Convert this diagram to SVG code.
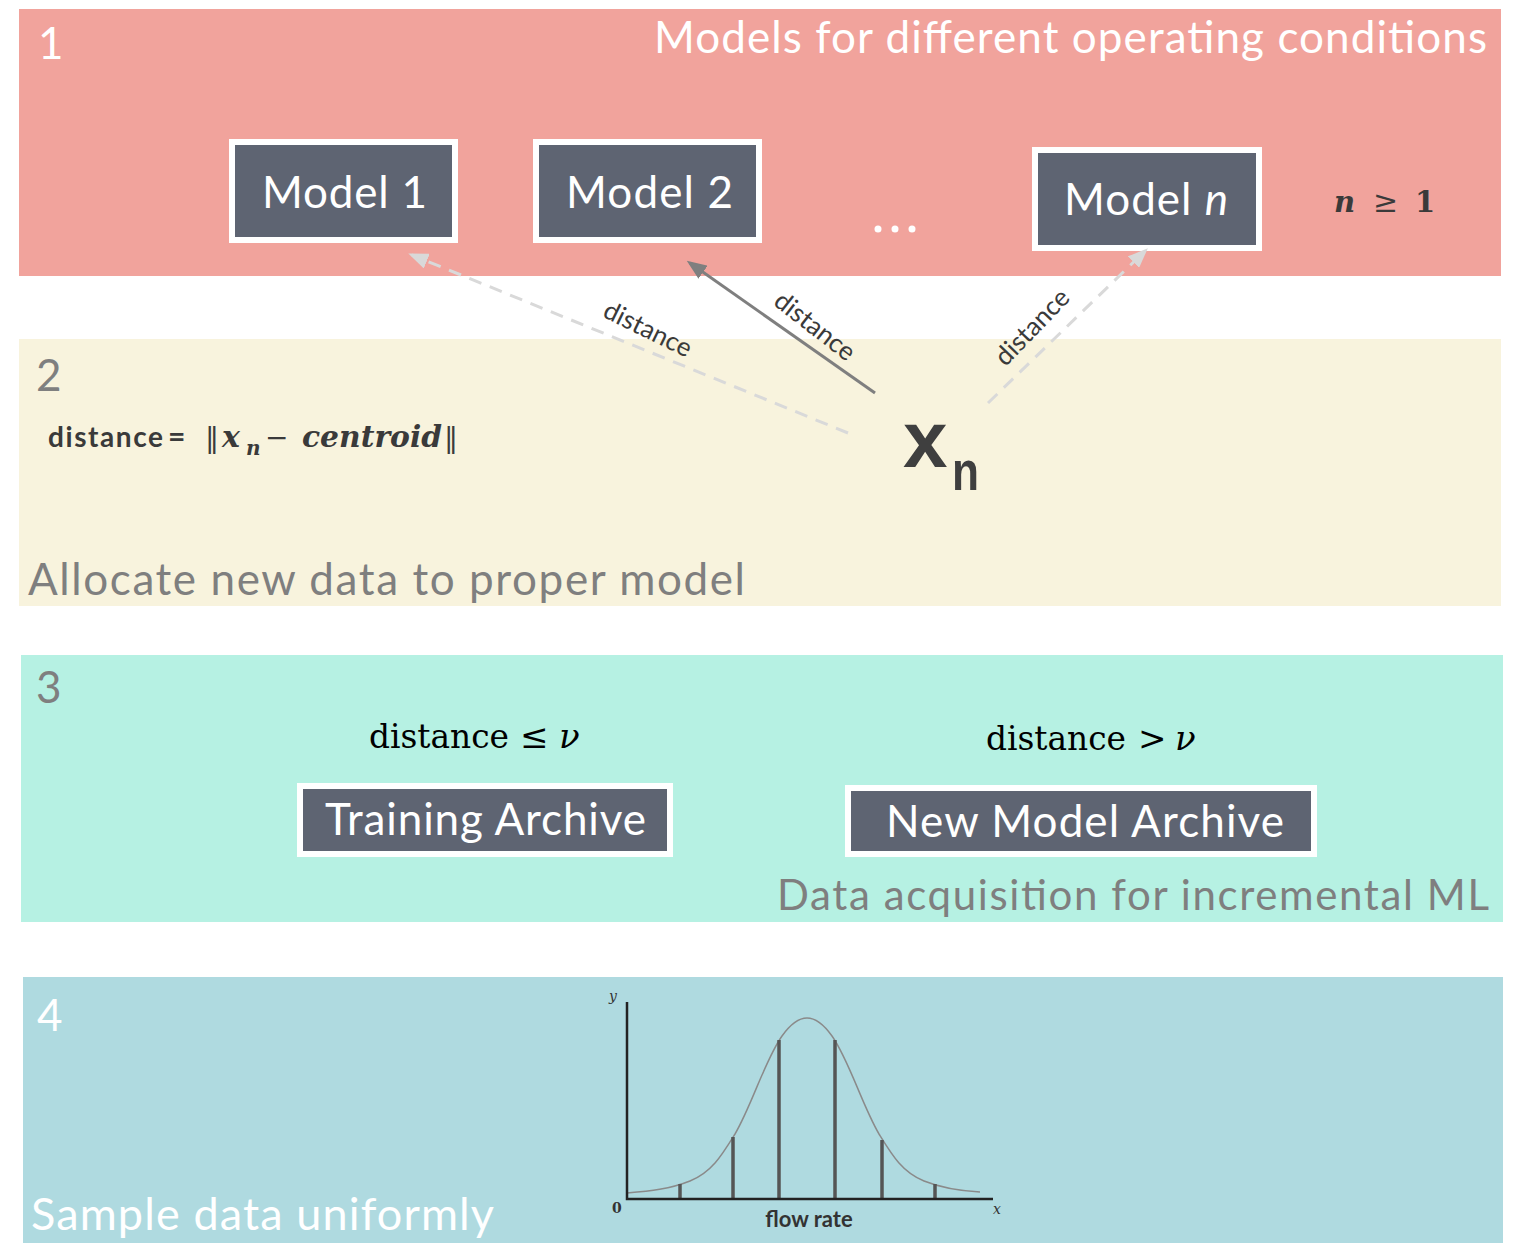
<svg xmlns="http://www.w3.org/2000/svg" width="1514" height="1256" viewBox="0 0 1514 1256">
<style>
.fut{font-family:Lato,"Open Sans","Liberation Sans",sans-serif}
.wt{fill:#FFFFFF}
.gt{fill:#7F7F7F}
.dk{fill:#3A3A3A}
.box{fill:#5E6472;stroke:#FFFFFF;stroke-width:6}
.math{font-family:"DejaVu Serif","Liberation Serif",serif}
.lbl{font-family:Lato,"Open Sans","Liberation Sans",sans-serif;font-size:26px;fill:#3A3A3A;text-anchor:middle}
.dash{stroke:#D9D9D9;stroke-width:3;stroke-dasharray:13 9;fill:none}
.solid{stroke:#7F7F7F;stroke-width:3;fill:none}
</style>
<defs>
<marker id="ahL" markerUnits="userSpaceOnUse" markerWidth="20" markerHeight="16" refX="16" refY="8" orient="auto">
<path d="M0,0 L20,8 L0,16 z" fill="#D9D9D9"/>
</marker>
<marker id="ahD" markerUnits="userSpaceOnUse" markerWidth="20" markerHeight="16" refX="16" refY="8" orient="auto">
<path d="M0,0 L20,8 L0,16 z" fill="#7F7F7F"/>
</marker>
</defs>

<!-- Panels -->
<g id="panel1">
<rect x="19" y="9" width="1482" height="267" fill="#F1A39C"/>
<text class="fut wt" x="38" y="59" font-size="44">1</text>
<text class="fut wt" x="1487" y="53" font-size="44" text-anchor="end" textLength="833">Models for different operating conditions</text>
</g>
<g id="panel2">
<rect x="19" y="339" width="1482" height="267" fill="#F8F3DD"/>
<text class="fut gt" x="36" y="391" font-size="44">2</text>
<text class="fut gt" x="28" y="595" font-size="44" textLength="717">Allocate new data to proper model</text>
</g>
<g id="panel3">
<rect x="21" y="655" width="1482" height="267" fill="#B6F1E3"/>
<text class="fut gt" x="36" y="703" font-size="44">3</text>
<text class="fut gt" x="777" y="910" font-size="42" textLength="712">Data acquisition for incremental ML</text>
</g>
<g id="panel4">
<rect x="23" y="977" width="1480" height="266" fill="#AFDAE0"/>
<text class="fut wt" x="37" y="1031" font-size="44">4</text>
<text class="fut wt" x="31" y="1230" font-size="45" textLength="463">Sample data uniformly</text>
</g>

<!-- Nodes -->
<g id="model1">
<rect class="box" x="232" y="142" width="223" height="98"/>
<text class="fut wt" x="262" y="208" font-size="44" textLength="165">Model 1</text>
</g>
<g id="model2">
<rect class="box" x="536" y="142" width="223" height="98"/>
<text class="fut wt" x="566" y="208" font-size="44" textLength="167">Model 2</text>
</g>
<g id="dots">
<circle cx="878" cy="229" r="3.5" fill="#FFFFFF"/>
<circle cx="895" cy="229" r="3.5" fill="#FFFFFF"/>
<circle cx="912" cy="229" r="3.5" fill="#FFFFFF"/>
</g>
<g id="modeln">
<rect class="box" x="1035" y="150" width="224" height="98"/>
<text class="fut wt" x="1064" y="215" font-size="44" textLength="164">Model <tspan font-style="italic">n</tspan></text>
</g>
<g id="n-cond">
<text class="math dk" x="1334" y="212" font-size="29" font-weight="bold" font-style="italic">n</text>
<text class="math dk" x="1373" y="212" font-size="30">≥</text>
<text class="math dk" x="1415" y="212" font-size="29" font-weight="bold">1</text>
</g>

<g id="xn">
<text x="903" y="467" font-family="Liberation Sans,Arial,sans-serif" font-weight="bold" font-size="80" fill="#3F3F3F">x</text>
<text x="952" y="490" font-family="Liberation Sans,Arial,sans-serif" font-weight="bold" font-size="56" fill="#3F3F3F" textLength="27" lengthAdjust="spacingAndGlyphs">n</text>
</g>

<g id="formula" class="dk">
<text class="fut" x="48" y="447" font-size="28" font-weight="bold" textLength="115">distance</text>
<text class="fut" x="168" y="447" font-size="30" font-weight="bold">=</text>
<text class="math" x="205" y="447" font-size="28">‖</text>
<text class="math" x="222" y="447" font-size="30" font-weight="bold" font-style="italic">x</text>
<text class="math" x="246" y="455" font-size="20" font-weight="bold" font-style="italic">n</text>
<text class="math" x="265" y="447" font-size="28">−</text>
<text class="math" x="302" y="447" font-size="30" font-weight="bold" font-style="italic" textLength="140" lengthAdjust="spacingAndGlyphs">centroid</text>
<text class="math" x="444" y="447" font-size="28">‖</text>
</g>

<g id="training-archive">
<text class="math" x="369" y="748" font-size="33" fill="#000" textLength="140" lengthAdjust="spacingAndGlyphs">distance</text>
<text class="math" x="520" y="748" font-size="34" fill="#000">≤</text>
<text class="math" x="559" y="748" font-size="34" fill="#000" font-style="italic">ν</text>
<rect class="box" x="300" y="786" width="370" height="68"/>
<text class="fut wt" x="325" y="835" font-size="44" textLength="321">Training Archive</text>
</g>
<g id="new-model-archive">
<text class="math" x="986" y="750" font-size="33" fill="#000" textLength="140" lengthAdjust="spacingAndGlyphs">distance</text>
<text class="math" x="1138" y="750" font-size="34" fill="#000">&gt;</text>
<text class="math" x="1175" y="750" font-size="34" fill="#000" font-style="italic">ν</text>
<rect class="box" x="848" y="788" width="466" height="66"/>
<text class="fut wt" x="886" y="837" font-size="44" textLength="398">New Model Archive</text>
</g>

<!-- Connectors -->
<g id="connectors">
<line class="dash" x1="848" y1="433" x2="412" y2="255" marker-end="url(#ahL)"/>
<line class="solid" x1="875" y1="393" x2="690" y2="263" marker-end="url(#ahD)"/>
<line class="dash" x1="988" y1="403" x2="1145" y2="251" marker-end="url(#ahL)"/>
<text class="lbl" transform="translate(648,329) rotate(26)" y="9">distance</text>
<text class="lbl" transform="translate(815,326) rotate(38)" y="9">distance</text>
<text class="lbl" transform="translate(1032,327) rotate(-46)" y="9">distance</text>
</g>

<!-- Chart -->
<g id="chart">
<path d="M627,1193 C650,1191 670,1189 690,1181 C712,1172 722,1155 735,1134 C752,1105 765,1060 782,1036 C792,1022 800,1018 807,1018 C814,1018 822,1022 832,1036 C849,1060 862,1105 879,1134 C892,1155 902,1172 924,1181 C944,1189 962,1191 980,1192" fill="none" stroke="#8A8A8A" stroke-width="1.5"/>
<g stroke="#555555" stroke-width="3.5">
<line x1="680" y1="1199" x2="680" y2="1184"/>
<line x1="733" y1="1199" x2="733" y2="1137"/>
<line x1="779" y1="1199" x2="779" y2="1040"/>
<line x1="835" y1="1199" x2="835" y2="1040"/>
<line x1="882" y1="1199" x2="882" y2="1140"/>
<line x1="935" y1="1199" x2="935" y2="1184"/>
</g>
<path d="M627,1002 L627,1199 L993,1199" fill="none" stroke="#222222" stroke-width="2.5"/>
<text class="math" x="609" y="1001" font-size="14" font-style="italic" fill="#333">y</text>
<text class="math" x="612" y="1213" font-size="14" font-weight="bold" fill="#333">0</text>
<text class="math" x="993" y="1214" font-size="14" font-style="italic" fill="#333">x</text>
<text class="fut" x="809" y="1227" font-size="22" font-weight="bold" fill="#333" text-anchor="middle">flow rate</text>
</g>
</svg>
